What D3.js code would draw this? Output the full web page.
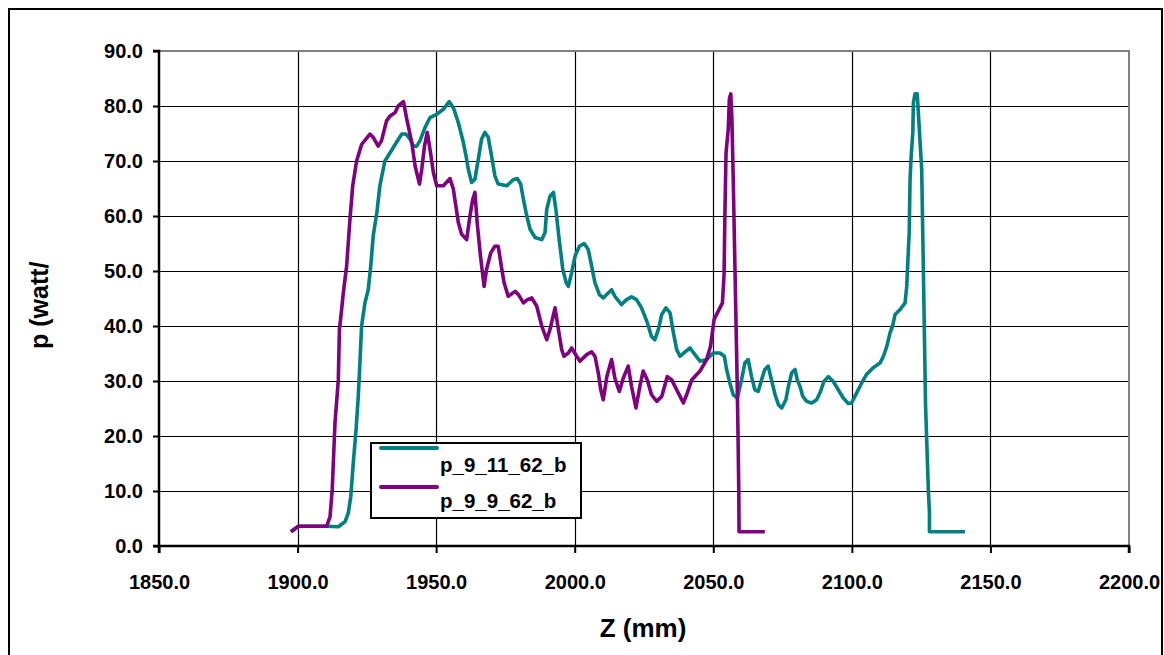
<!DOCTYPE html>
<html>
<head>
<meta charset="utf-8">
<script src="https://cdn.jsdelivr.net/npm/d3@7"></script>
<style>
  html, body { margin: 0; padding: 0; background: #fff; }
  svg { display: block; }
  text { font-family: "Liberation Sans", Arial, sans-serif; font-weight: bold; fill: #000; }
</style>
</head>
<body>
<svg id="chart" width="1164" height="655"></svg>
<script>
// ---- data ----
const seriesNames = ["p_9_11_62_b", "p_9_9_62_b"];
const seriesColors = ["#008080", "#800080"];

const tealZ = [1897.6,1900.3,1910.5,1914.7,1917.1,1918.3,1919.2,1920.1,1921.1,1921.9,1922.5,1923.1,1924.3,1925.5,1926.4,1927.3,1928.6,1929.7,1931.5,1933.4,1935.2,1937.6,1939.1,1940.6,1941.8,1943.0,1944.2,1946.0,1947.8,1950.2,1952.6,1954.7,1956.2,1958.0,1959.8,1960.8,1961.6,1962.8,1964.0,1965.2,1966.4,1967.6,1968.8,1970.0,1971.2,1972.4,1975.5,1977.8,1979.3,1980.5,1981.5,1982.7,1983.9,1985.7,1988.1,1989.3,1989.9,1991.1,1992.3,1993.2,1994.4,1995.7,1996.9,1997.7,1998.9,2000.1,2001.7,2003.4,2004.9,2006.1,2007.3,2008.9,2010.3,2012.1,2013.3,2014.5,2016.9,2018.7,2020.5,2022.3,2024.1,2026.2,2027.7,2028.9,2030.2,2031.4,2032.9,2034.4,2035.6,2036.8,2038.0,2039.4,2041.6,2043.4,2045.2,2047.6,2050.0,2052.4,2054.0,2054.8,2056.0,2057.2,2058.7,2060.2,2061.4,2062.6,2063.8,2065.0,2066.2,2067.4,2068.6,2069.8,2071.0,2072.3,2073.5,2074.7,2076.2,2077.1,2078.3,2079.5,2080.3,2081.3,2082.3,2083.7,2085.5,2087.3,2088.7,2089.9,2091.5,2093.3,2095.1,2096.9,2098.7,2099.9,2101.7,2103.5,2105.3,2107.7,2110.2,2111.4,2112.6,2113.8,2114.7,2115.6,2117.4,2119.2,2119.8,2120.4,2120.7,2121.0,2121.4,2122.0,2122.2,2122.8,2123.6,2124.2,2125.2,2125.8,2126.6,2127.6,2128.0,2128.0,2131.0,2140.8];
const tealP = [2.6,3.6,3.6,3.5,4.4,6.0,9.0,15.1,21.1,27.2,33.3,40.0,44.2,46.6,50.9,56.4,60.6,65.5,70.0,71.5,73.0,74.9,74.9,74.0,72.7,72.7,73.7,76.1,77.9,78.5,79.4,80.8,79.7,77.0,73.4,70.9,68.5,66.1,66.7,70.3,74.0,75.2,74.3,70.9,67.3,65.8,65.5,66.6,66.8,65.8,63.0,60.0,57.6,56.1,55.7,57.0,61.2,63.6,64.3,61.2,55.7,50.3,47.9,47.2,49.7,52.7,54.5,55.0,53.9,50.9,47.9,45.7,45.1,46.0,46.6,45.4,43.9,44.8,45.3,44.8,43.3,40.6,38.1,37.5,39.4,42.1,43.3,42.4,38.8,35.7,34.5,35.1,36.0,34.8,33.6,33.9,35.1,35.1,34.5,32.1,29.6,27.5,26.9,30.2,33.3,33.9,30.8,28.4,28.1,30.2,32.1,32.7,30.2,27.5,25.7,25.1,26.6,29.0,31.5,32.1,30.2,29.0,27.2,26.3,26.0,26.6,28.1,29.9,30.8,29.9,28.4,26.9,25.9,26.0,27.8,29.6,31.2,32.4,33.3,34.5,36.3,38.8,40.0,42.1,43.0,44.2,47.2,53.9,57.0,66.7,70.9,75.2,80.6,82.2,82.2,77.0,68.5,50.3,25.4,10.2,6.0,2.6,2.6,2.6];

const purpleZ = [1897.6,1900.3,1910.5,1911.7,1912.5,1913.5,1914.7,1915.1,1915.9,1916.5,1917.7,1918.9,1919.9,1921.3,1923.1,1926.1,1927.3,1929.1,1930.3,1932.1,1933.4,1935.2,1936.3,1938.2,1939.4,1941.2,1942.4,1944.0,1944.8,1945.8,1946.8,1947.8,1949.0,1950.2,1952.6,1955.0,1956.2,1958.0,1959.2,1961.0,1962.2,1963.2,1964.0,1964.8,1966.0,1967.3,1968.2,1969.7,1971.2,1972.4,1973.7,1974.5,1976.0,1978.5,1979.7,1981.5,1982.9,1984.5,1986.3,1988.1,1989.9,1991.1,1992.9,1994.1,1995.3,1996.1,1997.7,1998.9,2000.7,2001.9,2004.3,2006.1,2007.3,2008.5,2009.4,2010.3,2011.6,2013.3,2014.5,2016.1,2017.5,2019.3,2020.5,2022.1,2023.5,2024.7,2026.2,2027.7,2029.6,2031.4,2033.4,2035.0,2037.4,2039.2,2040.6,2042.2,2045.2,2047.6,2049.0,2050.3,2051.8,2053.3,2053.9,2054.2,2054.6,2055.4,2055.8,2056.3,2056.7,2057.2,2057.8,2058.6,2058.9,2059.2,2059.3,2068.6];
const purpleP = [2.6,3.6,3.6,5.3,10.2,22.4,30.2,39.4,43.0,46.0,50.9,59.4,65.5,70.0,73.0,74.9,74.3,72.7,73.7,77.3,78.2,78.8,80.0,80.8,77.6,73.4,69.1,65.8,68.5,72.7,75.2,72.1,67.9,65.5,65.5,66.8,64.9,58.8,56.7,55.7,60.0,63.0,64.3,58.8,52.7,47.2,50.3,53.3,54.5,54.5,50.3,47.9,45.4,46.3,45.7,44.2,44.8,45.1,43.6,40.0,37.5,39.4,43.3,39.4,35.7,34.5,35.1,36.0,34.5,33.6,34.8,35.3,34.5,31.5,28.4,26.6,30.8,33.9,30.5,28.1,30.5,32.7,29.0,25.1,29.0,31.8,30.2,27.5,26.3,27.2,30.8,30.2,27.8,26.0,27.8,30.2,31.8,33.9,36.3,41.2,42.7,44.2,49.5,60.6,71.5,75.8,81.3,82.2,78.0,66.7,50.9,30.2,21.1,10.0,2.6,2.6];

const xTicks = [1850,1900,1950,2000,2050,2100,2150,2200];
const yTicks = [0,10,20,30,40,50,60,70,80,90];
const xTitle = "Z (mm)";
const yTitle = "p (watt/";

// ---- drawing ----
const svg = d3.select("#chart");
const x = d3.scaleLinear().domain([1850, 2200]).range([159, 1129]);
const y = d3.scaleLinear().domain([0, 90]).range([546, 51]);

// outer frame
svg.append("rect").attr("x", 9).attr("y", 9).attr("width", 1153).attr("height", 660)
  .attr("fill", "#fff").attr("stroke", "#000").attr("stroke-width", 2);

// gridlines
const g = svg.append("g");
g.selectAll(".hg").data(yTicks.filter(d => d > 0 && d < 90)).enter().append("line")
  .attr("x1", x(1850)).attr("x2", x(2200)).attr("y1", d => Math.round(y(d)) + 0.5).attr("y2", d => Math.round(y(d)) + 0.5)
  .attr("stroke", "#000").attr("stroke-width", 1.2);
g.selectAll(".vg").data(xTicks.filter(d => d > 1850 && d < 2200)).enter().append("line")
  .attr("y1", y(0)).attr("y2", y(90)).attr("x1", d => Math.round(x(d)) + 0.5).attr("x2", d => Math.round(x(d)) + 0.5)
  .attr("stroke", "#000").attr("stroke-width", 1.2);

// plot border (gray top/right)
svg.append("path").attr("d", `M${x(1850)},${y(90)}H${x(2200)}V${y(0)}`)
  .attr("fill", "none").attr("stroke", "#808080").attr("stroke-width", 2);

// axes
const xAxis = d3.axisBottom(x).tickValues(xTicks).tickSize(7).tickPadding(22).tickFormat(d3.format(".1f"));
const yAxis = d3.axisLeft(y).tickValues(yTicks).tickSize(6).tickPadding(10).tickFormat(d3.format(".1f"));
const gx = svg.append("g").attr("transform", `translate(0,${y(0)})`).call(xAxis);
const gy = svg.append("g").attr("transform", `translate(${x(1850)},0)`).call(yAxis);
[gx, gy].forEach(a => {
  a.select(".domain").attr("stroke", "#000").attr("stroke-width", 2.5);
  a.selectAll(".tick line").attr("stroke", "#000").attr("stroke-width", 2);
  a.selectAll(".tick text").attr("font-size", 20).attr("font-weight", "bold")
    .attr("font-family", "'Liberation Sans', Arial, sans-serif").attr("fill", "#000");
});
gx.select(".domain").attr("d", `M${x(1850)},7V0H${x(2200)}V7`);
gy.select(".domain").attr("d", `M-6,${y(90)}H0V${y(0)}H-6`);

// lines
const line = d3.line().x(d => x(d[0])).y(d => y(d[1]));
const series = [d3.zip(tealZ, tealP), d3.zip(purpleZ, purpleP)];
series.forEach((s, i) => {
  svg.append("path").datum(s).attr("d", line)
    .attr("fill", "none").attr("stroke", seriesColors[i]).attr("stroke-width", 3.6)
    .attr("stroke-linejoin", "round").attr("stroke-linecap", "butt");
});

// axis titles
svg.append("text").attr("x", 643).attr("y", 637).attr("text-anchor", "middle")
  .attr("font-size", 26).text(xTitle);
svg.append("text").attr("transform", "translate(48,349) rotate(-90)").attr("text-anchor", "start")
  .attr("font-size", 25).text(yTitle);

// legend
const lg = svg.append("g");
lg.append("rect").attr("x", 371).attr("y", 443).attr("width", 210).attr("height", 75)
  .attr("fill", "#fff").attr("stroke", "#000").attr("stroke-width", 2);
const legY = [448, 487];
const legTextY = [472, 508];
seriesNames.forEach((n, i) => {
  lg.append("line").attr("x1", 381).attr("x2", 437).attr("y1", legY[i]).attr("y2", legY[i])
    .attr("stroke", seriesColors[i]).attr("stroke-width", 4).attr("stroke-linecap", "round");
  lg.append("text").attr("x", 440).attr("y", legTextY[i]).attr("font-size", 20.5).text(n);
});
</script>
</body>
</html>
